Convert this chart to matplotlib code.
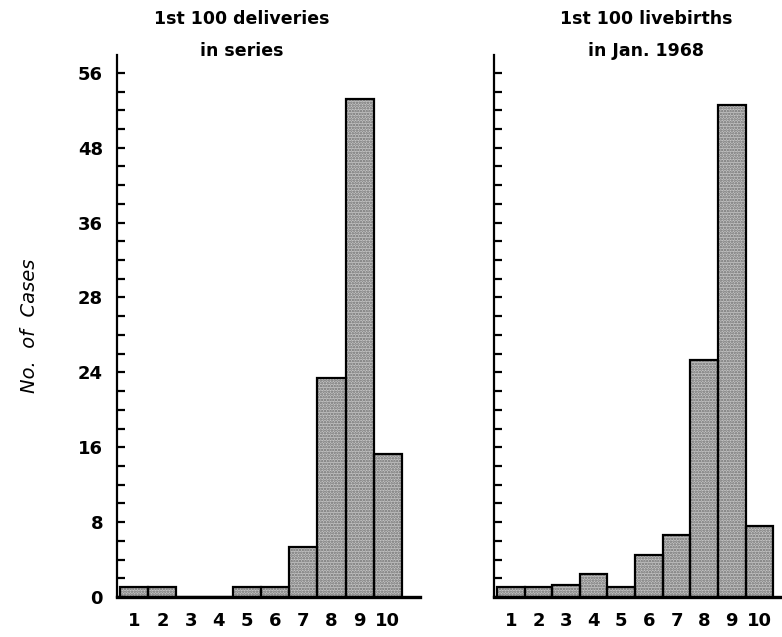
import matplotlib
matplotlib.use("Agg")
import matplotlib.pyplot as plt

# score classes (1..10) and number of cases in each
classes = [1, 2, 3, 4, 5, 6, 7, 8, 9, 10]
deliveries = [1.1, 1.1, 0, 0, 1.1, 1.1, 5.3, 23.4, 53.2, 15.3]
livebirths = [1.1, 1.1, 1.3, 2.5, 1.1, 4.5, 6.6, 25.3, 52.6, 7.6]

ytick_pos = [0, 8, 16, 24, 32, 40, 48, 56]
ytick_lab = ["0", "8", "16", "24", "28", "36", "48", "56"]

titles = ["1st 100 deliveries\nin series", "1st 100 livebirths\nin Jan. 1968"]

plt.rcParams["hatch.linewidth"] = 1.2

fig = plt.figure(figsize=(7.82, 6.37), dpi=100)
ax1 = fig.add_axes([117/782, 40/637, 303/782, 542/637])
ax2 = fig.add_axes([494/782, 40/637, 288/782, 542/637])


def panel(ax, vals, xmax):
    # stippled fill first, black outline on top
    ax.bar(classes, vals, width=1.0, color="#c4c4c4", hatch="......",
           edgecolor="#6e6e6e", linewidth=0)
    ax.bar(classes, vals, width=1.0, fill=False, edgecolor="black",
           linewidth=1.6)
    ax.set_xlim(0.39, xmax)
    ax.set_ylim(0, 57.9)
    for s in ["top", "right"]:
        ax.spines[s].set_visible(False)
    ax.spines["left"].set_linewidth(1.6)
    ax.spines["bottom"].set_linewidth(2.4)
    ax.set_yticks(range(0, 57, 2), minor=True)
    ax.set_yticks(ytick_pos)
    ax.tick_params(axis="y", which="both", direction="in", length=6,
                   width=1.6, pad=10)
    ax.tick_params(axis="x", length=0, pad=11)
    ax.set_xticks(classes)
    ax.set_xticklabels([str(c) for c in classes], fontsize=13,
                       fontweight="bold")


panel(ax1, deliveries, 11.14)
panel(ax2, livebirths, 10.82)

ax1.set_yticklabels(ytick_lab, fontsize=13, fontweight="bold")
ax2.set_yticklabels([])
ax1.set_ylabel("No.  of  Cases", fontsize=14, style="italic", labelpad=28)

fig.text(242/782, 1 - 35/637, titles[0], ha="center", va="center",
         fontsize=12.5, fontweight="bold", linespacing=2.0)
fig.text(646/782, 1 - 35/637, titles[1], ha="center", va="center",
         fontsize=12.5, fontweight="bold", linespacing=2.0)

fig.savefig("out.png", dpi=100)
